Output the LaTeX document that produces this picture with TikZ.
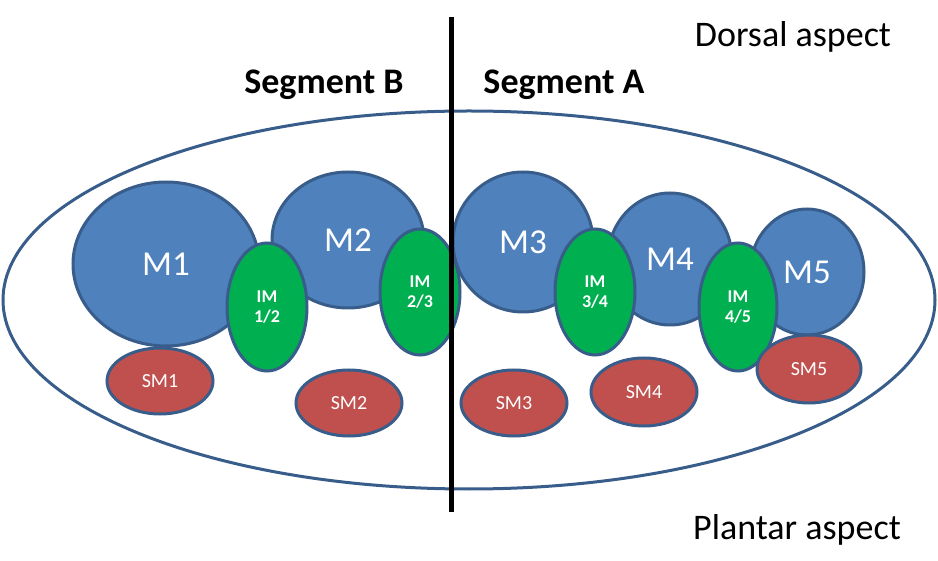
\documentclass[tikz,border=0pt]{standalone}
\usepackage{fontspec}
\setmainfont{Carlito}
\usetikzlibrary{shapes.geometric}
\definecolor{mblue}{HTML}{4F81BD}
\definecolor{mborder}{HTML}{385D8A}
\definecolor{mgreen}{HTML}{00B050}
\definecolor{mred}{HTML}{C0504D}
\tikzset{
  musc/.style={ellipse, draw=mborder, line width=3pt, inner sep=0pt, text=white},
  bigm/.style={musc, fill=mblue, font=\fontsize{35}{36}\selectfont},
  interm/.style={musc, fill=mgreen, font=\bfseries\fontsize{18}{20}\selectfont, align=center},
  subm/.style={musc, fill=mred, font=\fontsize{20}{22}\selectfont},
  lbl/.style={inner sep=0pt, font=\fontsize{36}{38}\selectfont},
  seglbl/.style={inner sep=0pt, font=\bfseries\fontsize{36}{38}\selectfont}
}
\begin{document}
\begin{tikzpicture}[x=1pt,y=-1pt]
\useasboundingbox (0,0) rectangle (938,561);
\node[ellipse, draw=mborder, line width=3pt, minimum width=932pt, minimum height=378pt, inner sep=0pt] (outer) at (469,300) {};
% main muscles
\node[bigm, minimum width=186pt, minimum height=164pt] (m1) at (166,264) {M1};
\node[bigm, minimum width=152pt, minimum height=136pt] (m2) at (348,240) {M2};
\node[bigm, minimum width=140pt, minimum height=140pt] (m3) at (523,242) {M3};
\node[bigm, minimum width=124pt, minimum height=132pt] (m4) at (670,259) {M4};
\node[bigm, minimum width=114pt, minimum height=126pt] (m5) at (807,272) {M5};
% interossei
\node[interm, minimum width=80pt, minimum height=128pt] (im12) at (267,307) {IM\\1/2};
\node[interm, minimum width=80pt, minimum height=126pt] (im23) at (420,292) {IM\\2/3};
\node[interm, minimum width=80pt, minimum height=126pt] (im34) at (595,292) {IM\\3/4};
\node[interm, minimum width=78pt, minimum height=128pt] (im45) at (738,307) {IM\\4/5};
% sub muscles
\node[subm, minimum width=106pt, minimum height=66pt] (sm1) at (160,381) {SM1};
\node[subm, minimum width=106pt, minimum height=66pt] (sm2) at (349,403) {SM2};
\node[subm, minimum width=106pt, minimum height=66pt] (sm3) at (514,403) {SM3};
\node[subm, minimum width=106pt, minimum height=68pt] (sm4) at (644,392) {SM4};
\node[subm, minimum width=104pt, minimum height=68pt] (sm5) at (809,369) {SM5};
% dividing line
\coordinate (ltop) at (451,17);
\coordinate (lbot) at (451,512);
\draw[line width=5pt, black] (ltop) -- (lbot);
% labels
\node[seglbl] (segb) at (324,85) {Segment B};
\node[seglbl] (sega) at (564,85) {Segment A};
\node[lbl] (dorsal) at (793,37) {Dorsal aspect};
\node[lbl] (plantar) at (797,530) {Plantar aspect};
\end{tikzpicture}
\end{document}
